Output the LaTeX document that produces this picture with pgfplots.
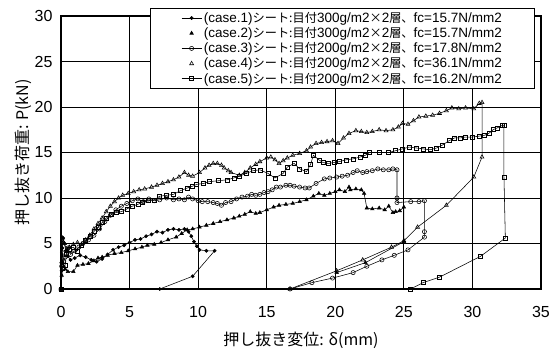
\documentclass[border=0pt]{standalone}
\usepackage{pgfplots}
\pgfplotsset{compat=1.18}
\usepackage{fontspec}
\setmainfont{Liberation Sans}
\newfontfamily\jp{Noto Sans CJK JP}
\newcommand{\J}[1]{{\jp\fontsize{12.2}{13}\selectfont #1}}
\pgfplotsset{
  marklegend/.style={legend image code/.code={\draw[##1,only marks] plot coordinates {(10pt,0pt)};}},
  linelegend/.style={legend image code/.code={\draw[mark repeat=2,mark phase=2,##1] plot coordinates {(0pt,0pt) (10pt,0pt) (20pt,0pt)};}},
}
\begin{document}
\begin{tikzpicture}
\begin{axis}[
  scale only axis, width=480pt, height=273pt,
  xmin=0, xmax=35, ymin=0, ymax=30,
  xtick={0,5,...,35}, ytick={0,5,...,30},
  grid=major, major grid style={black, line width=0.8pt},
  major tick length=0pt,
  axis line style={black, line width=1.2pt},
  /pgf/number format/assume math mode=true,
  tick label style={font=\fontsize{16}{16}\selectfont},
  xticklabel style={yshift=-14pt},
  yticklabel style={xshift=-5pt},
  xlabel={\jp 押し抜き変位: δ(mm)},
  ylabel={\jp 押し抜き荷重: P(kN)},
  label style={font=\fontsize{16}{16}\selectfont},
  xlabel style={yshift=-7pt},
  ylabel style={yshift=-4pt},
  legend cell align=left,
  legend style={at={(rel axis cs:0.988,1.03)}, anchor=north east,
    font=\fontsize{13.5}{14}\selectfont, draw=black, line width=0.8pt,
    fill=white, row sep=-0.5pt, inner xsep=31pt, inner ysep=2pt},
  every axis plot/.append style={black, line width=0.55pt},
]
\addplot[mark=*, mark size=1.6pt, linelegend] coordinates {
(0,0) (0.05,2.0) (0.1,4.5) (0.15,5.6) (0.25,5.0) (0.35,4.2) (0.5,3.6) (0.7,3.2)
(1.0,3.4) (1.4,3.7) (1.8,3.5) (2.2,3.2) (2.6,3.0) (3.0,3.3) (3.4,3.8) (3.8,4.3)
(4.2,4.6) (4.6,4.8) (5.0,5.1) (5.4,5.4) (5.8,5.5) (6.2,5.8) (6.6,6.0) (7.0,6.3)
(7.4,6.2) (7.8,6.5) (8.2,6.6) (8.6,6.5) (9.0,6.6) (9.3,6.3) (9.5,5.8) (9.7,5.2)
(9.9,4.7) (10.1,4.3) (10.6,4.2) (11.2,4.2) (9.6,1.4) (7.2,0)
};
\addlegendentry{(case.1)\J{シート:目付}300g/m2\J{×}2\J{層、}fc=15.7N/mm2}
\addplot[mark=triangle*, mark size=2pt, marklegend] coordinates {
(0,0) (0.05,1.5) (0.1,3.0) (0.2,2.5) (0.3,2.2) (0.5,1.9) (0.9,1.9) (1.2,2.6)
(1.6,2.7) (2.0,2.8) (2.4,3.1) (2.7,3.4) (3.0,3.5) (3.4,3.7) (3.9,3.9) (4.4,4.0)
(4.9,4.2) (5.4,4.4) (5.9,4.6) (6.3,4.8) (6.8,4.9) (7.3,5.1) (7.8,5.4) (8.4,5.7)
(8.8,6.1) (9.2,6.5) (9.6,6.6) (10.1,6.8) (10.6,7.0) (11.1,7.2) (11.6,7.4) (12.1,7.6)
(12.6,7.8) (13.0,8.0) (13.4,8.2) (13.8,8.5) (14.2,8.3) (14.5,8.4) (15.0,8.7) (15.5,9.0)
(15.9,9.2) (16.4,9.3) (16.9,9.4) (17.4,9.6) (17.9,9.8) (18.4,10.2) (18.8,10.5) (19.2,10.3)
(19.6,10.5) (20.0,10.7) (20.3,10.9) (20.7,10.7) (21.0,11.2) (21.1,10.9) (21.5,11.0) (21.9,10.9)
(22.1,10.5) (22.3,8.9) (22.7,8.8) (23.2,8.9) (23.6,8.7) (23.9,9.1) (24.2,8.4) (24.4,8.5)
(24.7,8.6) (25.0,9.0) (25.0,5.2) (22.2,2.9) (20.1,1.8)
};
\addlegendentry{(case.2)\J{シート:目付}300g/m2\J{×}2\J{層、}fc=15.7N/mm2}
\addplot[mark=o, mark size=2.1pt, linelegend] coordinates {
(0,0) (0.05,2.5) (0.1,4.0) (0.2,3.0) (0.3,3.5) (0.5,4.5) (0.7,3.8) (1.0,4.2)
(1.3,4.6) (1.6,5.0) (2.0,5.4) (2.4,5.9) (2.8,6.6) (3.2,7.4) (3.6,8.1) (4.0,8.7)
(4.4,9.1) (4.8,9.4) (5.2,9.7) (5.6,9.9) (6.0,9.6) (6.4,9.9) (6.8,9.7) (7.2,9.8)
(7.7,10.0) (8.2,9.8) (8.6,9.9) (9.0,9.8) (9.3,10.1) (9.6,9.9) (10.0,9.7) (10.3,9.6)
(10.7,9.6) (11.1,9.5) (11.4,9.4) (11.7,9.2) (12.0,9.5) (12.4,9.6) (12.8,9.9) (13.2,10.1)
(13.6,10.2) (13.9,10.4) (14.2,10.3) (14.5,10.4) (14.8,10.6) (15.1,10.7) (15.4,10.9) (15.7,11.2)
(16.0,11.2) (16.4,11.4) (16.7,11.4) (17.0,11.3) (17.4,11.2) (17.8,11.1) (18.1,11.1) (18.6,11.6)
(19.2,12.1) (19.6,12.2) (20.1,12.3) (20.5,12.4) (20.9,12.5) (21.3,12.8) (21.6,13.0) (22.0,12.8)
(22.3,12.9) (22.7,13.0) (23.1,13.2) (23.5,13.1) (23.9,13.1) (24.2,13.2) (24.5,13.1) (24.5,10.0)
(24.5,9.5) (25.5,9.6) (26.1,9.6) (26.5,9.7) (26.5,6.3) (26.5,5.7) (25.3,4.3) (24.3,3.7)
(23.4,3.2) (22.3,2.5) (21.3,1.8) (19.8,1.2) (18.3,0.7) (16.7,0)
};
\addlegendentry{(case.3)\J{シート:目付}200g/m2\J{×}2\J{層、}fc=17.8N/mm2}
\addplot[mark=triangle, mark size=2.3pt, marklegend] coordinates {
(0,0) (0.05,3.0) (0.12,5.6) (0.25,5.0) (0.4,4.3) (0.6,4.6) (0.9,4.9) (1.2,5.1)
(1.5,4.9) (1.8,5.4) (2.1,5.9) (2.4,6.6) (2.7,7.2) (3.0,7.8) (3.3,8.5) (3.6,9.1)
(3.9,9.6) (4.2,10.0) (4.5,10.3) (4.9,10.5) (5.3,10.7) (5.7,10.9) (6.1,11.0) (6.6,11.2)
(7.0,11.4) (7.4,11.6) (7.8,11.8) (8.2,12.0) (8.6,12.3) (9.0,12.8) (9.3,12.5) (9.6,12.4)
(10.1,12.8) (10.5,13.3) (10.8,13.6) (11.1,13.8) (11.4,13.8) (11.7,13.6) (11.9,13.3) (12.2,13.0)
(12.4,12.8) (13.0,12.5) (13.4,12.8) (13.8,13.3) (14.2,13.7) (14.5,14.0) (15.0,14.4) (15.3,14.5)
(15.6,14.2) (15.9,13.8) (16.2,14.1) (16.5,14.4) (16.9,14.7) (17.4,14.9) (17.9,15.2) (18.2,15.6)
(18.6,16.0) (19.0,16.1) (19.4,16.2) (19.8,16.3) (20.2,16.0) (20.6,16.6) (21.0,17.1) (21.5,17.4)
(21.9,17.3) (22.3,17.2) (22.7,17.3) (23.2,17.5) (23.7,17.4) (24.2,17.5) (24.6,17.8) (24.9,18.2)
(25.3,18.1) (25.7,18.5) (26.1,18.9) (26.6,19.0) (27.1,19.1) (27.6,19.3) (28.1,19.6) (28.5,19.9)
(29.0,19.8) (29.5,19.9) (30.1,19.8) (30.5,20.4) (30.7,20.5) (30.7,14.5) (30.1,12.3) (28.1,9.2)
(26.0,6.8) (25.0,5.3) (24.1,4.6) (22.0,3.2) (20.1,2.0) (16.7,0)
};
\addlegendentry{(case.4)\J{シート:目付}200g/m2\J{×}2\J{層、}fc=36.1N/mm2}
\addplot[mark=square, mark size=2pt, linelegend] coordinates {
(0,0) (0.1,2.3) (0.3,2.6) (0.4,3.8) (0.6,4.4) (0.9,4.6) (1.2,4.2) (1.5,4.8)
(1.8,5.3) (2.1,5.8) (2.4,6.3) (2.7,6.8) (3.0,7.3) (3.3,7.8) (3.7,8.2) (4.0,8.4)
(4.4,8.5) (4.8,8.8) (5.2,9.1) (5.6,9.3) (5.9,9.5) (6.4,9.7) (6.8,9.8) (7.2,10.2)
(7.7,10.3) (8.2,10.4) (8.7,10.8) (9.2,11.1) (9.6,11.3) (9.9,11.5) (10.4,11.6) (10.8,11.8)
(11.5,11.9) (12.1,12.0) (12.6,12.2) (13.0,12.4) (13.5,12.7) (14.0,13.0) (14.5,13.1) (15.1,12.7)
(15.6,12.2) (16.2,12.7) (16.5,13.4) (17.0,13.8) (17.4,13.2) (17.9,12.9) (18.2,13.7) (18.4,14.7)
(18.8,14.2) (19.1,13.9) (19.5,13.8) (19.9,13.9) (20.3,14.0) (20.8,14.2) (21.3,14.3) (21.8,14.5)
(22.2,14.7) (22.5,15.0) (23.2,15.0) (23.9,15.0) (24.4,15.2) (24.9,15.4) (25.4,15.6) (25.9,15.5)
(26.4,15.4) (26.9,15.3) (27.4,15.5) (27.8,15.8) (28.3,16.3) (28.7,16.6) (29.1,16.6) (29.5,16.7)
(30.0,16.7) (30.5,16.8) (30.9,16.9) (31.2,17.1) (31.5,17.5) (31.8,17.7) (32.2,18.0) (32.3,18.0)
(32.3,12.3) (32.4,5.6) (30.6,3.6) (27.6,1.3) (26.4,0.7) (25.5,0)
};
\addlegendentry{(case.5)\J{シート:目付}200g/m2\J{×}2\J{層、}fc=16.2N/mm2}
\end{axis}
\path (-61pt,-56pt) rectangle (496pt,289pt);
\end{tikzpicture}
\end{document}
